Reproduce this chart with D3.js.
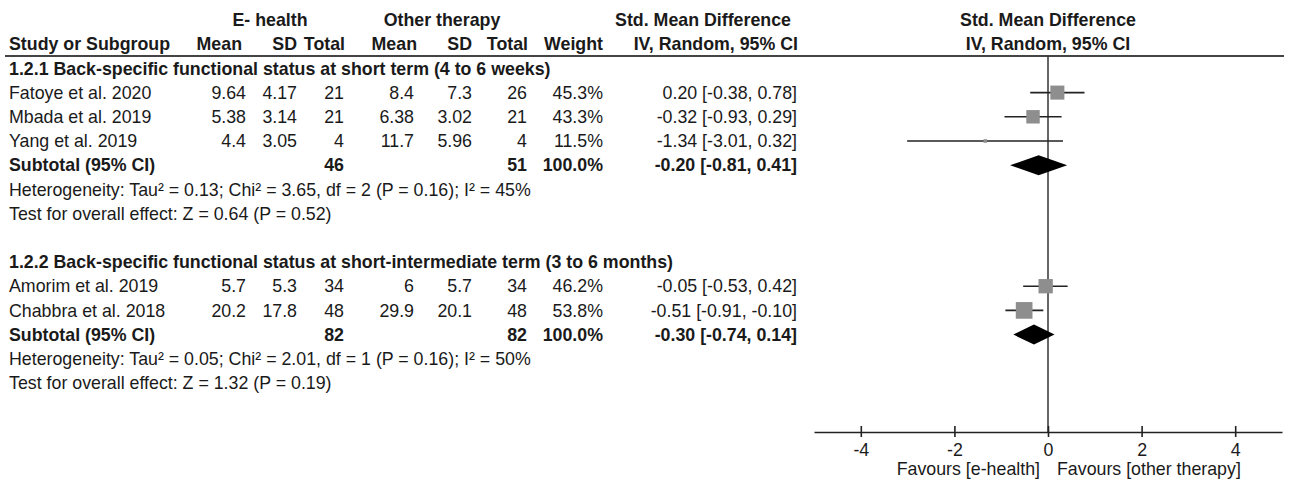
<!DOCTYPE html>
<html>
<head>
<meta charset="utf-8">
<title>Forest plot</title>
<script src="https://cdn.jsdelivr.net/npm/d3@7"></script>
<style>
  body { margin: 0; background: #fff; }
  text { font-family: "Liberation Sans", Arial, sans-serif; font-size: 17.8px; fill: #1a1a1a; }
  .b { font-weight: bold; }
</style>
</head>
<body>
<script>
// study level data
var studies = ["Fatoye et al. 2020", "Mbada et al. 2019", "Yang et al. 2019", "Amorim et al. 2019", "Chabbra et al. 2018"];
var studyGroup = [0, 0, 0, 1, 1];
var eMean = [9.64, 5.38, 4.4, 5.7, 20.2];
var eSD = [4.17, 3.14, 3.05, 5.3, 17.8];
var eTotal = [21, 21, 4, 34, 48];
var oMean = [8.4, 6.38, 11.7, 6, 29.9];
var oSD = [7.3, 3.02, 5.96, 5.7, 20.1];
var oTotal = [26, 21, 4, 34, 48];
var weight = [45.3, 43.3, 11.5, 46.2, 53.8];
var smd = [0.20, -0.32, -1.34, -0.05, -0.51];
var ciLo = [-0.38, -0.93, -3.01, -0.53, -0.91];
var ciHi = [0.78, 0.29, 0.32, 0.42, -0.10];

// subgroup data
var groupTitles = ["1.2.1 Back-specific functional status at short term (4 to 6 weeks)",
                   "1.2.2 Back-specific functional status at short-intermediate term (3 to 6 months)"];
var subETotal = [46, 82];
var subOTotal = [51, 82];
var subSmd = [-0.20, -0.30];
var subLo = [-0.81, -0.74];
var subHi = [0.41, 0.14];
var tau2 = ["0.13", "0.05"];
var chi2 = ["3.65", "2.01"];
var dfs = [2, 1];
var pHet = ["0.16", "0.16"];
var i2 = [45, 50];
var zVal = ["0.64", "1.32"];
var pZ = ["0.52", "0.19"];

var xTicks = [-4, -2, 0, 2, 4];

var w = 1294, h = 480;
var svg = d3.select('body').append('svg').attr('width', w).attr('height', h);

// row index -> y
var rowY = d3.scaleLinear().domain([0, 1]).range([20, 44.2]);
var x = d3.scaleLinear().domain([-5, 5]).range([814, 1282]);
var boxSize = d3.scaleLinear().domain([0, 100]).range([0, 31]);
var axisY = 432;

// column anchors of the table
var col = {study: 9, eMean: 246, eSD: 297, eTot: 344, oMean: 414, oSD: 472, oTot: 527, weight: 603, ci: 797};

function txt(xp, row, s, anchor, cls) {
  return svg.append('text').attr('x', xp).attr('y', rowY(row)).attr('dy', '0.35em')
    .attr('text-anchor', anchor || 'start').attr('class', cls || null).text(s);
}
function ciText(m, lo, hi) {
  return m.toFixed(2) + ' [' + lo.toFixed(2) + ', ' + hi.toFixed(2) + ']';
}

// headers
txt(270, 0, 'E- health', 'middle', 'b');
txt(442, 0, 'Other therapy', 'middle', 'b');
txt(703, 0, 'Std. Mean Difference', 'middle', 'b');
txt(1048, 0, 'Std. Mean Difference', 'middle', 'b');
txt(col.study, 1, 'Study or Subgroup', 'start', 'b');
txt(242, 1, 'Mean', 'end', 'b');
txt(297, 1, 'SD', 'end', 'b');
txt(345, 1, 'Total', 'end', 'b');
txt(417, 1, 'Mean', 'end', 'b');
txt(472, 1, 'SD', 'end', 'b');
txt(528, 1, 'Total', 'end', 'b');
txt(603, 1, 'Weight', 'end', 'b');
txt(798, 1, 'IV, Random, 95% CI', 'end', 'b');
txt(1048, 1, 'IV, Random, 95% CI', 'middle', 'b');

svg.append('line').attr('x1', 5).attr('x2', 1284).attr('y1', 56).attr('y2', 56)
  .attr('stroke', '#444').attr('stroke-width', 2);

// zero line
svg.append('line').attr('x1', x(0)).attr('x2', x(0)).attr('y1', 56).attr('y2', axisY)
  .attr('stroke', '#333').attr('stroke-width', 1.5);

// build rows
var row = 2;
var plotRows = [];
groupTitles.forEach(function(title, g) {
  txt(col.study, row, title, 'start', 'b');
  row++;
  studies.forEach(function(s, i) {
    if (studyGroup[i] !== g) return;
    txt(col.study, row, s);
    txt(col.eMean, row, String(eMean[i]), 'end');
    txt(col.eSD, row, String(eSD[i]), 'end');
    txt(col.eTot, row, String(eTotal[i]), 'end');
    txt(col.oMean, row, String(oMean[i]), 'end');
    txt(col.oSD, row, String(oSD[i]), 'end');
    txt(col.oTot, row, String(oTotal[i]), 'end');
    txt(col.weight, row, weight[i].toFixed(1) + '%', 'end');
    txt(col.ci, row, ciText(smd[i], ciLo[i], ciHi[i]), 'end');
    plotRows.push({row: row, m: smd[i], lo: ciLo[i], hi: ciHi[i], wt: weight[i]});
    row++;
  });
  txt(col.study, row, 'Subtotal (95% CI)', 'start', 'b');
  txt(col.eTot, row, String(subETotal[g]), 'end', 'b');
  txt(col.oTot, row, String(subOTotal[g]), 'end', 'b');
  txt(col.weight, row, '100.0%', 'end', 'b');
  txt(col.ci, row, ciText(subSmd[g], subLo[g], subHi[g]), 'end', 'b');
  var yd = rowY(row);
  svg.append('path')
    .attr('d', 'M' + x(subLo[g]) + ',' + yd + 'L' + x(subSmd[g]) + ',' + (yd - 10) +
               'L' + x(subHi[g]) + ',' + yd + 'L' + x(subSmd[g]) + ',' + (yd + 10) + 'Z')
    .attr('fill', '#000');
  row++;
  txt(col.study, row, 'Heterogeneity: Tau\u00b2 = ' + tau2[g] + '; Chi\u00b2 = ' + chi2[g] + ', df = ' + dfs[g] +
      ' (P = ' + pHet[g] + '); I\u00b2 = ' + i2[g] + '%');
  row++;
  txt(col.study, row, 'Test for overall effect: Z = ' + zVal[g] + ' (P = ' + pZ[g] + ')');
  row += 2;
});

// CI lines and boxes
var marks = svg.append('g').attr('class', 'marks');
marks.selectAll('line').data(plotRows).enter().append('line')
  .attr('x1', function(d) { return x(d.lo); })
  .attr('x2', function(d) { return x(d.hi); })
  .attr('y1', function(d) { return rowY(d.row); })
  .attr('y2', function(d) { return rowY(d.row); })
  .attr('stroke', '#222').attr('stroke-width', 1.6);
marks.selectAll('rect').data(plotRows).enter().append('rect')
  .attr('x', function(d) { return x(d.m) - boxSize(d.wt) / 2; })
  .attr('y', function(d) { return rowY(d.row) - boxSize(d.wt) / 2; })
  .attr('width', function(d) { return boxSize(d.wt); })
  .attr('height', function(d) { return boxSize(d.wt); })
  .attr('fill', '#8e8e8e');

// x axis
var xAxis = d3.axisBottom(x).tickValues(xTicks).tickSize(0)
  .tickFormat(function(d) { return String(d); });
var ax = svg.append('g').attr('transform', 'translate(0,' + axisY + ')').call(xAxis);
ax.select('.domain').attr('stroke', '#222').attr('stroke-width', 1.6);
ax.selectAll('.tick line').attr('y1', -6).attr('y2', 5).attr('stroke', '#222').attr('stroke-width', 1.6);
ax.selectAll('.tick text').attr('font-size', null).attr('font-family', null).attr('fill', '#1a1a1a')
  .attr('y', 11).attr('dy', '0.71em');

svg.append('text').attr('x', x(0) - 8).attr('y', 469).attr('dy', '0.35em').attr('text-anchor', 'end')
  .text('Favours [e-health]');
svg.append('text').attr('x', x(0) + 9).attr('y', 469).attr('dy', '0.35em').attr('text-anchor', 'start')
  .text('Favours [other therapy]');
</script>
</body>
</html>
